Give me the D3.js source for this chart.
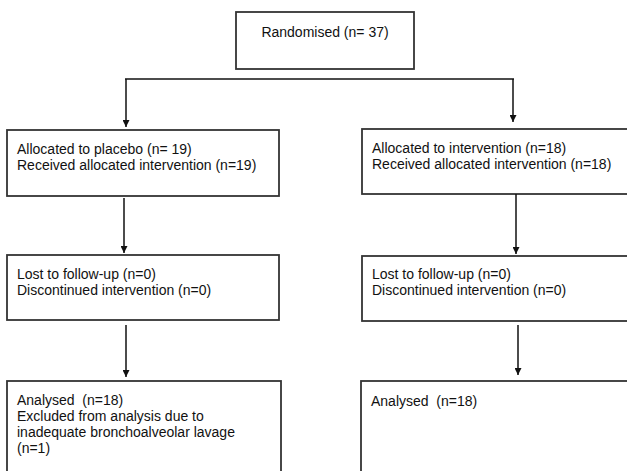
<!DOCTYPE html>
<html>
<head>
<meta charset="utf-8">
<script src="https://cdn.jsdelivr.net/npm/d3@7"></script>
<style>
  html, body { margin: 0; padding: 0; background: #fff; }
  svg { display: block; }
  text, tspan { white-space: pre; }
</style>
</head>
<body>
<div id="chart"></div>
<script>
// flow diagram text, one array per box
const randomisedLines = ["Randomised (n= 37)"];
const placeboLines = ["Allocated to placebo (n= 19)", "Received allocated intervention (n=19)"];
const interventionLines = ["Allocated to intervention (n=18)", "Received allocated intervention (n=18)"];
const placeboFollowLines = ["Lost to follow-up (n=0)", "Discontinued intervention (n=0)"];
const interventionFollowLines = ["Lost to follow-up (n=0)", "Discontinued intervention (n=0)"];
const placeboAnalysedLines = ["Analysed  (n=18)", "Excluded from analysis due to", "inadequate bronchoalveolar lavage", "(n=1)"];
const interventionAnalysedLines = ["Analysed  (n=18)"];

const width = 627, height = 471;
const lineH = 16;

const svg = d3.select("#chart").append("svg")
    .attr("width", width)
    .attr("height", height)
    .attr("style", "font: 14px 'Liberation Sans', Arial, sans-serif;");

svg.append("defs").append("marker")
    .attr("id", "arrow")
    .attr("viewBox", "0 0 10 10")
    .attr("refX", 10).attr("refY", 5)
    .attr("markerWidth", 7).attr("markerHeight", 7)
    .attr("markerUnits", "userSpaceOnUse")
    .attr("orient", "auto")
  .append("path")
    .attr("d", "M0,0L10,5L0,10Z")
    .attr("fill", "#111");

// box layout (x, y, w, h) and first text line centre
const boxes = [
    { lines: randomisedLines, x: 236, y: 12, w: 178, h: 57, center: true, ty: 32 },
    { lines: placeboLines, x: 7, y: 130, w: 272, h: 66, ty: 149 },
    { lines: interventionLines, x: 362, y: 129, w: 300, h: 65, ty: 148 },
    { lines: placeboFollowLines, x: 7, y: 255, w: 272, h: 65, ty: 274 },
    { lines: interventionFollowLines, x: 362, y: 256, w: 300, h: 65, ty: 274 },
    { lines: placeboAnalysedLines, x: 7, y: 381, w: 274, h: 110, ty: 400 },
    { lines: interventionAnalysedLines, x: 361, y: 381, w: 300, h: 110, ty: 401 }
];

const g = svg.append("g");

g.selectAll("rect").data(boxes).join("rect")
    .attr("x", d => d.x)
    .attr("y", d => d.y)
    .attr("width", d => d.w)
    .attr("height", d => d.h)
    .attr("fill", "none")
    .attr("stroke", "#333")
    .attr("stroke-width", 1.8);

g.selectAll("text.box").data(boxes).join("text")
    .attr("class", "box")
    .attr("xml:space", "preserve")
    .attr("fill", "#111")
    .each(function(d) {
        const t = d3.select(this);
        d.lines.forEach((line, i) => {
            t.append("tspan")
                .attr("x", d.center ? d.x + d.w / 2 : d.x + 10)
                .attr("y", d.ty + i * lineH)
                .attr("dy", "0.35em")
                .attr("text-anchor", d.center ? "middle" : "start")
                .text(line);
        });
    });

// connector lines
const lineGen = d3.line();
const connectors = [
    { pts: [[126, 79], [126, 127]], arrow: true },
    { pts: [[125, 79], [514, 79]], arrow: false },
    { pts: [[513, 79], [513, 122]], arrow: true },
    { pts: [[124, 198], [124, 253]], arrow: true },
    { pts: [[516, 194], [516, 254]], arrow: true },
    { pts: [[126, 325], [126, 377]], arrow: true },
    { pts: [[518, 325], [518, 375]], arrow: true }
];

g.selectAll("path.conn").data(connectors).join("path")
    .attr("class", "conn")
    .attr("d", d => lineGen(d.pts))
    .attr("fill", "none")
    .attr("stroke", "#111")
    .attr("stroke-width", 1.5)
    .attr("marker-end", d => d.arrow ? "url(#arrow)" : null);
</script>
</body>
</html>
